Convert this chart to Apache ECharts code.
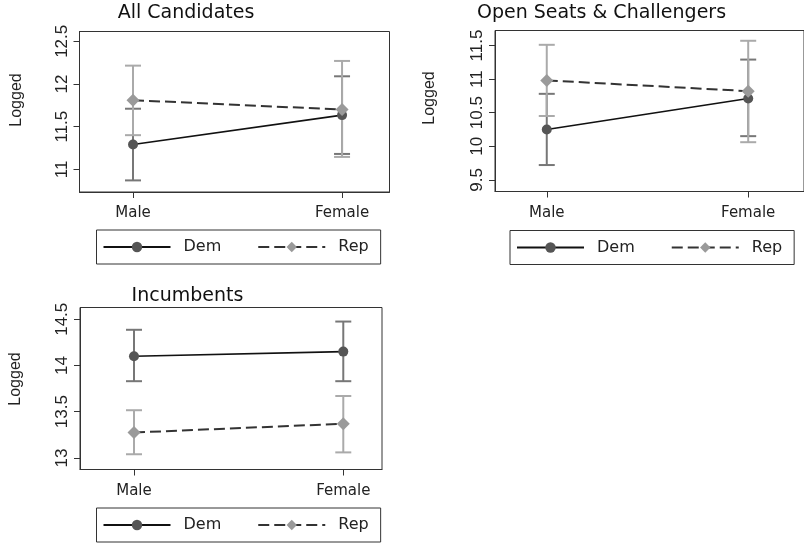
<!DOCTYPE html>
<html><head><meta charset="utf-8">
<script src="https://cdn.jsdelivr.net/npm/echarts@6/dist/echarts.min.js"></script>
<style>html,body{margin:0;padding:0;background:#fff}#c{width:804px;height:543px}</style>
</head><body><div id="c"></div>
<script>
// ---- data ----
const categories = ['Male', 'Female'];
const panelTitles = ['All Candidates', 'Open Seats & Challengers', 'Incumbents'];
const seriesNames = ['Dem', 'Rep'];
const yAxisName = 'Logged';

const allDem = [11.29, 11.635];
const allDemLo = [10.87, 11.18];
const allDemHi = [11.71, 12.09];
const allRep = [11.81, 11.70];
const allRepLo = [11.40, 11.145];
const allRepHi = [12.215, 12.27];

const openDem = [10.25, 10.71];
const openDemLo = [9.72, 10.15];
const openDemHi = [10.78, 11.29];
const openRep = [10.98, 10.82];
const openRepLo = [10.45, 10.06];
const openRepHi = [11.51, 11.57];

const incDem = [14.10, 14.15];
const incDemLo = [13.83, 13.83];
const incDemHi = [14.386, 14.475];
const incRep = [13.275, 13.37];
const incRepLo = [13.04, 13.06];
const incRepHi = [13.516, 13.67];

const ticksAll = [11, 11.5, 12, 12.5];
const ticksOpen = [9.5, 10, 10.5, 11, 11.5];
const ticksInc = [13, 13.5, 14, 14.5];

// ---- layout / style ----
const panels = [
  {dem: allDem, demLo: allDemLo, demHi: allDemHi, rep: allRep, repLo: allRepLo, repHi: allRepHi, ticks: ticksAll,
   grid: {left: 79.5, top: 31.5, width: 310, height: 160.5}, x: [-0.256, 1.227], y: [10.734, 12.615],
   title: [186, 13], logged: [17, 100], legend: [96.5, 230]},
  {dem: openDem, demLo: openDemLo, demHi: openDemHi, rep: openRep, repLo: openRepLo, repHi: openRepHi, ticks: ticksOpen,
   grid: {left: 495, top: 30.5, width: 320, height: 161}, x: [-0.257, 1.277], y: [9.326, 11.723],
   title: [601.5, 13], logged: [430, 98], legend: [510, 230.5]},
  {dem: incDem, demLo: incDemLo, demHi: incDemHi, rep: incRep, repLo: incRepLo, repHi: incRepHi, ticks: ticksInc,
   grid: {left: 80, top: 307.5, width: 302, height: 162}, x: [-0.258, 1.185], y: [12.875, 14.627],
   title: [187.5, 296], logged: [16, 379], legend: [96.5, 508]}
];

const axisColor = '#333';
const demLine = '#111', demMarker = '#555', demCI = '#777';
const repLine = '#333', repMarker = '#9a9a9a', repCI = '#aaa';
const hFont = "'DejaVu Sans', sans-serif";
const vFont = "'Liberation Sans', Arial, sans-serif";

function errRender(color) {
  return function (params, api) {
    const x = api.value(0);
    const a = api.coord([x, api.value(1)]);
    const b = api.coord([x, api.value(2)]);
    const hw = 8;
    const st = {stroke: color, lineWidth: 2};
    return {type: 'group', children: [
      {type: 'line', shape: {x1: a[0], y1: a[1], x2: b[0], y2: b[1]}, style: st},
      {type: 'line', shape: {x1: a[0] - hw, y1: a[1], x2: a[0] + hw, y2: a[1]}, style: st},
      {type: 'line', shape: {x1: b[0] - hw, y1: b[1], x2: b[0] + hw, y2: b[1]}, style: st}
    ]};
  };
}

const grid = [], xAxis = [], yAxis = [], series = [], legend = [], graphic = [];
panels.forEach((p, i) => {
  grid.push(Object.assign({show: true, borderColor: axisColor, borderWidth: 1, backgroundColor: 'transparent'}, p.grid));
  xAxis.push({
    type: 'value', gridIndex: i, min: p.x[0], max: p.x[1],
    splitLine: {show: false},
    axisLine: {show: true, onZero: false, lineStyle: {color: axisColor, width: 1}},
    axisTick: {show: true, length: 6, lineStyle: {color: axisColor}, customValues: [0, 1]},
    axisLabel: {customValues: [0, 1], formatter: v => categories[Math.round(v)], margin: 14,
      fontFamily: hFont, fontSize: 15, color: '#222'}
  });
  yAxis.push({
    type: 'value', gridIndex: i, min: p.y[0], max: p.y[1],
    splitLine: {show: false},
    axisLine: {show: true, onZero: false, lineStyle: {color: axisColor, width: 1}},
    axisTick: {show: true, length: 6, lineStyle: {color: axisColor}, customValues: p.ticks},
    axisLabel: {customValues: p.ticks, rotate: 90, margin: 9, formatter: v => String(v),
      fontFamily: vFont, fontSize: 17, color: '#222'}
  });
  const demCIData = categories.map((c, k) => [k, p.demLo[k], p.demHi[k]]);
  const repCIData = categories.map((c, k) => [k, p.repLo[k], p.repHi[k]]);
  series.push({type: 'custom', name: 'DemCI', xAxisIndex: i, yAxisIndex: i, renderItem: errRender(demCI),
    data: demCIData, encode: {x: 0, y: [1, 2]}, z: 1, silent: true});
  series.push({type: 'custom', name: 'RepCI', xAxisIndex: i, yAxisIndex: i, renderItem: errRender(repCI),
    data: repCIData, encode: {x: 0, y: [1, 2]}, z: 1, silent: true});
  series.push({type: 'line', name: seriesNames[0], xAxisIndex: i, yAxisIndex: i,
    data: categories.map((c, k) => [k, p.dem[k]]),
    symbol: 'circle', symbolSize: 10, z: 3, animation: false,
    lineStyle: {color: demLine, width: 1.6, type: 'solid'},
    itemStyle: {color: demMarker, borderWidth: 0}});
  series.push({type: 'line', name: seriesNames[1], xAxisIndex: i, yAxisIndex: i,
    data: categories.map((c, k) => [k, p.rep[k]]),
    symbol: 'diamond', symbolSize: [13, 13], z: 4, animation: false,
    lineStyle: {color: repLine, width: 2, type: [11, 5]},
    itemStyle: {color: repMarker, borderWidth: 0}});
  legend.push({
    data: seriesNames, left: p.legend[0], top: p.legend[1], orient: 'horizontal',
    itemWidth: 67, itemHeight: 13, itemGap: 36,
    padding: [7, 12, 7, 6], borderColor: axisColor, borderWidth: 1, borderRadius: 0,
    selectedMode: false,
    textStyle: {fontFamily: hFont, fontSize: 16, color: '#222', padding: [0, 0, 0, 8], lineHeight: 20}
  });
  graphic.push({type: 'text', x: p.title[0], y: p.title[1], silent: true,
    style: {text: panelTitles[i], fontFamily: hFont, fontSize: 19, fill: '#111', align: 'center', verticalAlign: 'middle'}});
  graphic.push({type: 'text', x: p.logged[0], y: p.logged[1], rotation: Math.PI / 2, silent: true,
    style: {text: yAxisName, fontFamily: vFont, fontSize: 16, fill: '#222', align: 'center', verticalAlign: 'middle'}});
});

const chart = echarts.init(document.getElementById('c'), null, {renderer: 'canvas'});
chart.setOption({animation: false, backgroundColor: '#fff', grid, xAxis, yAxis, series, legend, graphic});
</script></body></html>
